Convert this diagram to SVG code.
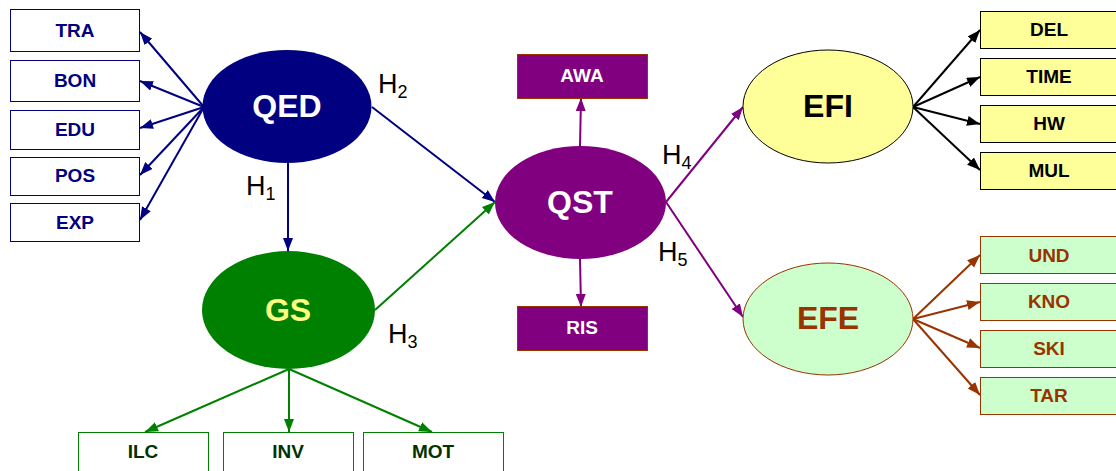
<svg xmlns="http://www.w3.org/2000/svg" width="1116" height="471" viewBox="0 0 1116 471">
<style>
text{font-family:"Liberation Sans",Arial,sans-serif;text-anchor:middle}
.bt{font-size:19px;font-weight:bold}
.et{font-size:32px;font-weight:bold}
.h{font-size:27px;text-anchor:start;fill:#000}
.sub{font-size:18px}
.ln{stroke-width:2;fill:none}
</style>
<defs>
<marker id="aN" markerUnits="userSpaceOnUse" markerWidth="14" markerHeight="11" refX="13" refY="5" orient="auto"><path d="M0,0 L13,5 L0,10 z" fill="#000080"/></marker>
<marker id="aG" markerUnits="userSpaceOnUse" markerWidth="14" markerHeight="11" refX="13" refY="5" orient="auto"><path d="M0,0 L13,5 L0,10 z" fill="#008000"/></marker>
<marker id="aP" markerUnits="userSpaceOnUse" markerWidth="14" markerHeight="11" refX="13" refY="5" orient="auto"><path d="M0,0 L13,5 L0,10 z" fill="#800080"/></marker>
<marker id="aK" markerUnits="userSpaceOnUse" markerWidth="14" markerHeight="11" refX="13" refY="5" orient="auto"><path d="M0,0 L13,5 L0,10 z" fill="#000"/></marker>
<marker id="aB" markerUnits="userSpaceOnUse" markerWidth="14" markerHeight="11" refX="13" refY="5" orient="auto"><path d="M0,0 L13,5 L0,10 z" fill="#993300"/></marker>
</defs>

<g id="connectors">
<g stroke="#000080" class="ln" marker-end="url(#aN)">
<line x1="204" y1="107" x2="140" y2="32"/>
<line x1="204" y1="107" x2="140" y2="81"/>
<line x1="204" y1="107" x2="140" y2="128"/>
<line x1="204" y1="107" x2="140" y2="175"/>
<line x1="204" y1="107" x2="140" y2="220"/>
<line x1="288" y1="163" x2="288" y2="251"/>
<line x1="372" y1="107" x2="495" y2="202"/>
</g>
<g stroke="#008000" class="ln" marker-end="url(#aG)">
<line x1="375" y1="310" x2="495" y2="202"/>
<line x1="289" y1="369" x2="145" y2="432"/>
<line x1="289" y1="369" x2="289" y2="432"/>
<line x1="289" y1="369" x2="432" y2="432"/>
</g>
<g stroke="#800080" class="ln" marker-end="url(#aP)">
<line x1="580" y1="146" x2="581" y2="98"/>
<line x1="580" y1="259" x2="581" y2="307"/>
<line x1="666" y1="202" x2="743" y2="107"/>
<line x1="666" y1="202" x2="743" y2="317"/>
</g>
<g stroke="#000" class="ln" marker-end="url(#aK)">
<line x1="913" y1="107" x2="980" y2="30"/>
<line x1="913" y1="107" x2="980" y2="77"/>
<line x1="913" y1="107" x2="980" y2="124"/>
<line x1="913" y1="107" x2="980" y2="170"/>
</g>
<g stroke="#993300" class="ln" marker-end="url(#aB)">
<line x1="913" y1="319" x2="980" y2="255"/>
<line x1="913" y1="319" x2="980" y2="302"/>
<line x1="913" y1="319" x2="980" y2="348"/>
<line x1="913" y1="319" x2="980" y2="395"/>
</g>
</g>

<g id="labels">
<text class="h" x="378" y="93">H<tspan class="sub" dy="5">2</tspan></text>
<text class="h" x="246" y="195">H<tspan class="sub" dy="5">1</tspan></text>
<text class="h" x="388" y="343">H<tspan class="sub" dy="5">3</tspan></text>
<text class="h" x="662" y="164">H<tspan class="sub" dy="5">4</tspan></text>
<text class="h" x="658" y="261">H<tspan class="sub" dy="5">5</tspan></text>
</g>

<g id="QED"><ellipse cx="287" cy="106.5" rx="84.5" ry="56.5" fill="#000080"/><text class="et" x="287" y="117" fill="#fff">QED</text></g>
<g id="GS"><ellipse cx="288.5" cy="310" rx="86.5" ry="59" fill="#008000"/><text class="et" x="288" y="321" fill="#ffff80" font-size="31">GS</text></g>
<g id="QST"><ellipse cx="580.5" cy="202.5" rx="85.5" ry="56.5" fill="#800080"/><text class="et" x="580" y="213" fill="#fff">QST</text></g>
<g id="EFI"><ellipse cx="828" cy="106.5" rx="85" ry="56.5" fill="#ffff99" stroke="#000" stroke-width="1"/><text class="et" x="828" y="117" fill="#000">EFI</text></g>
<g id="EFE"><ellipse cx="828" cy="319" rx="85" ry="56" fill="#ccffcc" stroke="#993300" stroke-width="1"/><text class="et" x="828" y="329" fill="#993300">EFE</text></g>

<g id="TRA"><rect x="10.5" y="9.5" width="129" height="42" fill="#fff" stroke="#000080"/><text class="bt" x="75" y="37" fill="#000080">TRA</text></g>
<g id="BON"><rect x="10.5" y="60.5" width="129" height="41" fill="#fff" stroke="#000080"/><text class="bt" x="75" y="87" fill="#000080">BON</text></g>
<g id="EDU"><rect x="10.5" y="110.5" width="129" height="39" fill="#fff" stroke="#000080"/><text class="bt" x="75" y="136" fill="#000080">EDU</text></g>
<g id="POS"><rect x="10.5" y="157.5" width="129" height="38" fill="#fff" stroke="#000080"/><text class="bt" x="75" y="182" fill="#000080">POS</text></g>
<g id="EXP"><rect x="10.5" y="203.5" width="129" height="38" fill="#fff" stroke="#000080"/><text class="bt" x="75" y="229" fill="#000080">EXP</text></g>

<g id="AWA"><rect x="517.5" y="54.5" width="130" height="44" fill="#800080" stroke="#993300"/><text class="bt" x="582" y="82" fill="#fff" font-size="18">AWA</text></g>
<g id="RIS"><rect x="517.5" y="306.5" width="130" height="44" fill="#800080" stroke="#993300"/><text class="bt" x="582" y="334" fill="#fff" font-size="18">RIS</text></g>

<g id="ILC"><rect x="78.5" y="432.5" width="130" height="44" fill="#fff" stroke="#008000"/><text class="bt" x="143" y="458" fill="#003300">ILC</text></g>
<g id="INV"><rect x="223.5" y="432.5" width="130" height="44" fill="#fff" stroke="#008000"/><text class="bt" x="288" y="458" fill="#003300">INV</text></g>
<g id="MOT"><rect x="363.5" y="432.5" width="140" height="44" fill="#fff" stroke="#008000"/><text class="bt" x="433" y="458" fill="#003300">MOT</text></g>

<g id="DEL"><rect x="980.5" y="11.5" width="140" height="37" fill="#ffff99" stroke="#000"/><text class="bt" x="1049" y="36" fill="#000">DEL</text></g>
<g id="TIME"><rect x="980.5" y="58.5" width="140" height="37" fill="#ffff99" stroke="#000"/><text class="bt" x="1049" y="83" fill="#000">TIME</text></g>
<g id="HW"><rect x="980.5" y="105.5" width="140" height="37" fill="#ffff99" stroke="#000"/><text class="bt" x="1049" y="130" fill="#000">HW</text></g>
<g id="MUL"><rect x="980.5" y="152.5" width="140" height="37" fill="#ffff99" stroke="#000"/><text class="bt" x="1049" y="177" fill="#000">MUL</text></g>

<g id="UND"><rect x="980.5" y="236.5" width="140" height="37" fill="#ccffcc" stroke="#993300"/><text class="bt" x="1049" y="262" fill="#993300">UND</text></g>
<g id="KNO"><rect x="980.5" y="283.5" width="140" height="37" fill="#ccffcc" stroke="#993300"/><text class="bt" x="1049" y="308" fill="#993300">KNO</text></g>
<g id="SKI"><rect x="980.5" y="330.5" width="140" height="37" fill="#ccffcc" stroke="#993300"/><text class="bt" x="1049" y="355" fill="#993300">SKI</text></g>
<g id="TAR"><rect x="980.5" y="377.5" width="140" height="37" fill="#ccffcc" stroke="#993300"/><text class="bt" x="1049" y="402" fill="#993300">TAR</text></g>
</svg>
